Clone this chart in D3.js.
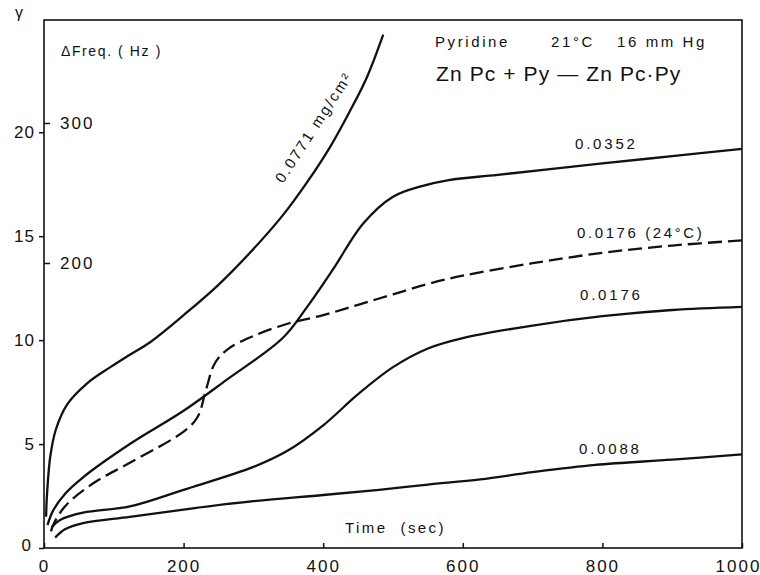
<!DOCTYPE html>
<html>
<head>
<meta charset="utf-8">
<script src="https://cdn.jsdelivr.net/npm/d3@7"></script>
<style>
  body { margin: 0; background: #fff; }
  svg { display: block; }
  text { font-family: "Liberation Sans", "DejaVu Sans", sans-serif; fill: #111; }
</style>
</head>
<body>
<div id="chart"></div>
<script>
// time (sec) and γ for each film
const t0771 = [3, 4, 9, 17, 33, 61, 95, 123, 152, 200, 248, 295, 342, 377, 410, 438, 462, 486];
const g0771 = [1.5, 2.4, 4.4, 5.7, 6.9, 7.9, 8.7, 9.3, 9.9, 11.2, 12.6, 14.2, 16.0, 17.6, 19.3, 21.0, 22.6, 24.7];

const t0352 = [5, 13, 30, 56, 123, 200, 262, 342, 377, 414, 457, 500, 540, 580, 650, 800, 900, 1000];
const g0352 = [1.1, 1.8, 2.6, 3.4, 5.0, 6.6, 8.1, 10.1, 11.6, 13.4, 15.6, 16.9, 17.4, 17.7, 17.95, 18.5, 18.85, 19.2];

const t0176h = [10, 13, 30, 70, 123, 200, 220, 232, 245, 265, 300, 350, 400, 450, 500, 550, 600, 700, 800, 900, 1000];
const g0176h = [0.8, 1.1, 2.0, 3.1, 4.1, 5.6, 6.3, 7.6, 8.9, 9.6, 10.2, 10.8, 11.2, 11.7, 12.2, 12.7, 13.1, 13.7, 14.2, 14.55, 14.8];

const t0176 = [11, 23, 56, 123, 200, 300, 350, 400, 450, 500, 550, 600, 700, 800, 900, 1000];
const g0176 = [1.0, 1.35, 1.7, 2.0, 2.8, 3.9, 4.7, 5.9, 7.4, 8.7, 9.6, 10.1, 10.7, 11.15, 11.45, 11.6];

const t0088 = [16, 30, 56, 123, 200, 300, 400, 480, 550, 625, 700, 790, 900, 1000];
const g0088 = [0.5, 0.9, 1.2, 1.5, 1.85, 2.25, 2.55, 2.8, 3.05, 3.3, 3.65, 4.0, 4.25, 4.5];

const xTicks = [0, 200, 400, 600, 800, 1000];
const gammaTicks = [0, 5, 10, 15, 20];
const hzTicks = [200, 300];

const width = 760, height = 575;
const plotLeft = 44, plotRight = 742, plotTop = 20, plotBottom = 548;

const svg = d3.select("#chart").append("svg")
    .attr("width", width)
    .attr("height", height);

const x = d3.scaleLinear().domain([0, 1000]).range([plotLeft, plotRight]);
const y = d3.scaleLinear().domain([0, 25.4]).range([plotBottom, plotTop]);
const hz = d3.scaleLinear().domain([0, 300]).range([543, 123]);

// frame
svg.append("rect")
    .attr("x", plotLeft).attr("y", plotTop)
    .attr("width", plotRight - plotLeft).attr("height", plotBottom - plotTop)
    .attr("fill", "none").attr("stroke", "#111").attr("stroke-width", 1.6);

// axes
const xAxis = svg.append("g")
    .attr("transform", `translate(0,${plotBottom})`)
    .call(d3.axisBottom(x).tickValues(xTicks).tickFormat(d3.format("d"))
        .tickSizeInner(-5).tickSizeOuter(0).tickPadding(8));

const gAxis = svg.append("g")
    .attr("transform", `translate(${plotLeft},0)`)
    .call(d3.axisLeft(y).tickValues(gammaTicks).tickSizeInner(5).tickSizeOuter(0).tickPadding(4));

const hzAxis = svg.append("g")
    .attr("transform", `translate(${plotLeft},0)`)
    .call(d3.axisRight(hz).tickValues(hzTicks).tickSizeInner(6).tickSizeOuter(0).tickPadding(10));

[xAxis, gAxis, hzAxis].forEach(a => {
    a.select(".domain").remove();
    a.selectAll(".tick line").attr("stroke", "#111").attr("stroke-width", 1.5);
    a.selectAll(".tick text")
        .attr("fill", "#111")
        .style("font-size", "17px")
        .style("letter-spacing", "2px");
});
gAxis.selectAll(".tick text").style("letter-spacing", "1px");
gAxis.selectAll(".tick").filter(d => d === 0).select("text").attr("x", -12).attr("dy", "0.15em");
xAxis.selectAll(".tick text").attr("dy", "0.95em");
xAxis.selectAll(".tick").filter(d => d === 1000).select("text").attr("dx", -4);

// curves
const line = d3.line()
    .x(d => x(d[0]))
    .y(d => y(d[1]))
    .curve(d3.curveCatmullRom.alpha(0.5));

const series = [
    { t: t0771, g: g0771, dash: null },
    { t: t0352, g: g0352, dash: null },
    { t: t0176h, g: g0176h, dash: "14,6" },
    { t: t0176, g: g0176, dash: null },
    { t: t0088, g: g0088, dash: null }
];

svg.append("g")
    .selectAll("path")
    .data(series)
    .enter().append("path")
    .attr("d", d => line(d3.zip(d.t, d.g)))
    .attr("fill", "none")
    .attr("stroke", "#111")
    .attr("stroke-width", 2.3)
    .attr("stroke-dasharray", d => d.dash);

// labels
const label = (tx, ty, str, size, ls) => svg.append("text")
    .attr("x", tx).attr("y", ty)
    .style("font-size", size + "px")
    .style("letter-spacing", ls + "px")
    .style("white-space", "pre")
    .text(str);

label(15, 18, "γ", 16, 0);
label(61, 56, "ΔFreq. ( Hz )", 14, 1.6);
label(435, 47, "Pyridine", 15, 2.6);
label(551, 47, "21°C", 15, 2.6);
label(617, 47, "16 mm Hg", 15, 2.6);
label(436, 81, "Zn Pc + Py — Zn Pc·Py", 21, 1.1);
label(575, 149, "0.0352", 15, 2.8);
label(577, 238, "0.0176 (24°C)", 15, 2.6);
label(580, 300, "0.0176", 15, 2.8);
label(579, 454, "0.0088", 15, 2.8);
label(345, 533, "Time  (sec)", 15, 2.4);

svg.append("text")
    .attr("transform", "translate(283,184) rotate(-57)")
    .style("font-size", "15px")
    .style("letter-spacing", "2.2px")
    .text("0.0771 mg/cm²");
</script>
</body>
</html>
